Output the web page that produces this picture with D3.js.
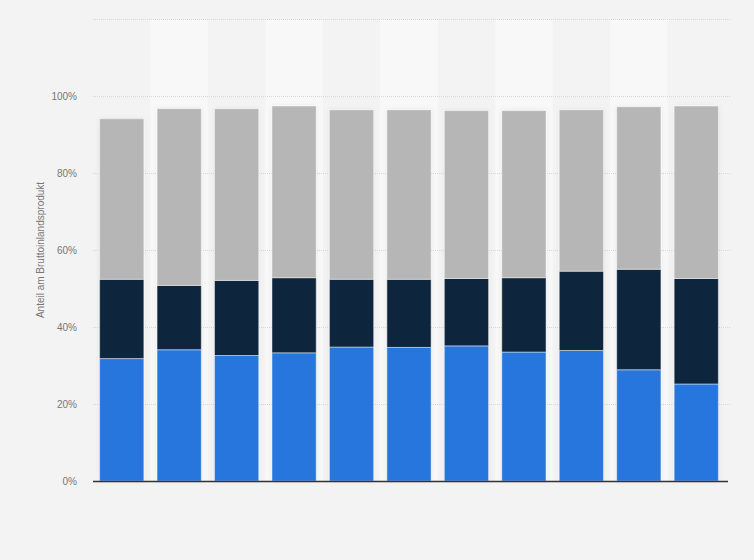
<!DOCTYPE html>
<html>
<head>
<meta charset="utf-8">
<script src="https://cdn.jsdelivr.net/npm/d3@7"></script>
<style>
  body { margin: 0; background: #f3f3f3; }
  svg { display: block; font-family: Arial, 'Liberation Sans', sans-serif; }
</style>
</head>
<body>
<div id="chart"></div>
<script>
const WIDTH = 754
const HEIGHT = 560
const MARGIN = { top: 19, right: 29, bottom: 79, left: 93 }

// categories (no labels shown in the picture)
const years = ['2012', '2013', '2014', '2015', '2016', '2017', '2018', '2019', '2020', '2021', '2022']

// shares in percent, bottom to top
const seriesBlue = [31.8, 34.1, 32.6, 33.3, 34.8, 34.7, 35.1, 33.5, 33.9, 28.9, 25.2]
const seriesNavy = [20.6, 16.7, 19.5, 19.5, 17.6, 17.7, 17.5, 19.3, 20.6, 26.1, 27.4]
const seriesGray = [41.7, 45.9, 44.6, 44.6, 44.0, 44.0, 43.6, 43.4, 41.9, 42.2, 44.8]

const seriesKeys = ['blue', 'navy', 'gray']
const seriesColors = ['#2876dd', '#0f263d', '#b6b6b6']
const yTicks = [0, 20, 40, 60, 80, 100]

const rows = years.map((year, i) => ({
  year,
  blue: seriesBlue[i],
  navy: seriesNavy[i],
  gray: seriesGray[i]
}))

const innerW = WIDTH - MARGIN.left - MARGIN.right
const innerH = HEIGHT - MARGIN.top - MARGIN.bottom

const svg = d3.select('#chart')
  .append('svg')
  .attr('width', WIDTH)
  .attr('height', HEIGHT)

svg.append('rect')
  .attr('width', WIDTH)
  .attr('height', HEIGHT)
  .attr('fill', '#f3f3f3')

const g = svg.append('g')
  .attr('transform', `translate(${MARGIN.left},${MARGIN.top})`)

const x = d3.scaleBand()
  .domain(years)
  .range([0, innerW])
  .paddingInner(0.23)
  .paddingOuter(0.115)

const y = d3.scaleLinear()
  .domain([0, 120])
  .range([innerH, 0])

// alternating column bands
const step = x.step()
g.selectAll('.band')
  .data(years.filter((d, i) => i % 2 === 1))
  .join('rect')
  .attr('class', 'band')
  .attr('x', (d) => x(d) - x.paddingInner() * step / 2)
  .attr('y', 0)
  .attr('width', step)
  .attr('height', innerH)
  .attr('fill', '#f8f8f8')

// gridlines
g.selectAll('.grid')
  .data(y.ticks(6).filter((d) => d > 0))
  .join('line')
  .attr('class', 'grid')
  .attr('x1', 0)
  .attr('x2', innerW + 5)
  .attr('y1', (d) => y(d) + 0.5)
  .attr('y2', (d) => y(d) + 0.5)
  .attr('stroke', '#d8d8d8')
  .attr('stroke-dasharray', '1,1')

// y axis labels
const yAxis = d3.axisLeft(y)
  .tickValues(yTicks)
  .tickSize(0)
  .tickPadding(16)
  .tickFormat((d) => d + '%')

g.append('g')
  .call(yAxis)
  .call((sel) => sel.select('.domain').remove())
  .selectAll('text')
  .attr('fill', '#777')
  .style('font-size', '10px')

svg.append('text')
  .attr('transform', `translate(44,${MARGIN.top + y(60)}) rotate(-90)`)
  .attr('text-anchor', 'middle')
  .attr('fill', '#777')
  .style('font-size', '10px')
  .text('Anteil am Bruttoinlandsprodukt')

// soft shadow under bars
const defs = svg.append('defs')
const shadow = defs.append('filter')
  .attr('id', 'shadow')
  .attr('x', '-20%').attr('y', '-5%')
  .attr('width', '140%').attr('height', '110%')
shadow.append('feDropShadow')
  .attr('dx', 0).attr('dy', 0)
  .attr('stdDeviation', 2.5)
  .attr('flood-color', '#000')
  .attr('flood-opacity', 0.06)

const stacked = d3.stack().keys(seriesKeys)(rows)
const color = d3.scaleOrdinal().domain(seriesKeys).range(seriesColors)

g.append('g')
  .attr('filter', 'url(#shadow)')
  .selectAll('g')
  .data(stacked)
  .join('g')
  .attr('fill', (d) => color(d.key))
  .selectAll('rect')
  .data((d) => d)
  .join('rect')
  .attr('x', (d) => x(d.data.year))
  .attr('y', (d) => y(d[1]))
  .attr('width', x.bandwidth())
  .attr('height', (d) => y(d[0]) - y(d[1]))
  .attr('stroke', 'rgba(255,255,255,0.45)')
  .attr('stroke-width', 1)

// baseline
g.append('line')
  .attr('x1', 0)
  .attr('x2', innerW + 3)
  .attr('y1', innerH + 0.5)
  .attr('y2', innerH + 0.5)
  .attr('stroke', '#333')
  .attr('stroke-width', 1.3)
</script>
</body>
</html>
